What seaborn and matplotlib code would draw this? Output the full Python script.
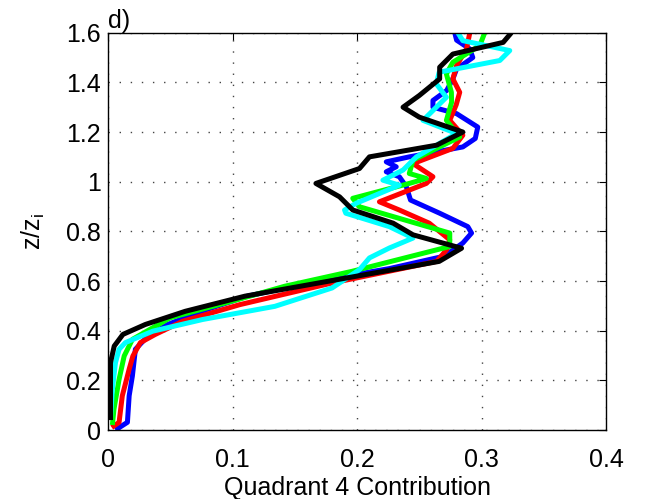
import matplotlib
matplotlib.use("Agg")
import matplotlib.pyplot as plt
import seaborn as sns
import pandas as pd

# ---- data ----
blue_z = [0.0, 0.031, 0.138, 0.218, 0.325, 0.378, 0.425, 0.478, 0.539, 0.60, 0.65, 0.70, 0.753, 0.793,
          0.819, 0.873, 0.926, 0.980, 1.02, 1.04, 1.06, 1.080, 1.100, 1.140, 1.174, 1.220, 1.274, 1.30,
          1.327, 1.367, 1.414, 1.454, 1.50, 1.535, 1.57, 1.6]
blue_x = [0.006, 0.0156, 0.017, 0.0196, 0.022, 0.032, 0.048, 0.075, 0.112, 0.168, 0.226, 0.270, 0.285, 0.292,
          0.289, 0.2664, 0.243, 0.2396, 0.234, 0.2235, 0.2315, 0.2235, 0.242, 0.285, 0.295, 0.297, 0.280, 0.261,
          0.261, 0.272, 0.277, 0.280, 0.293, 0.2905, 0.28, 0.2785]

red_z = [0.01, 0.031, 0.138, 0.245, 0.298, 0.352, 0.385, 0.438, 0.505, 0.592, 0.679, 0.726, 0.766, 0.833,
         0.886, 0.919, 0.993, 1.020, 1.073, 1.134, 1.187, 1.247, 1.31, 1.36, 1.414, 1.468, 1.535, 1.6]
red_x = [0.003, 0.0089, 0.0115, 0.017, 0.02, 0.026, 0.038, 0.060, 0.106, 0.180, 0.264, 0.272, 0.2745, 0.258,
         0.234, 0.218, 0.2557, 0.261, 0.245, 0.277, 0.285, 0.2745, 0.2797, 0.2825, 0.277, 0.280, 0.288, 0.2906]

green_z = [0.02, 0.084, 0.204, 0.298, 0.365, 0.452, 0.525, 0.579, 0.639, 0.739, 0.793, 0.899, 0.933, 0.993,
           1.013, 1.033, 1.087, 1.180, 1.247, 1.32, 1.36, 1.434, 1.481, 1.548, 1.6]
green_x = [0.0035, 0.0048, 0.0089, 0.013, 0.0196, 0.050, 0.104, 0.142, 0.196, 0.2745, 0.2745, 0.202, 0.1966, 0.242,
           0.2557, 0.242, 0.245, 0.2825, 0.2718, 0.276, 0.2758, 0.2718, 0.277, 0.2986, 0.3026]

cyan_z = [0.044, 0.164, 0.271, 0.325, 0.352, 0.398, 0.445, 0.498, 0.572, 0.646, 0.693, 0.733, 0.773, 0.819,
          0.873, 0.886, 0.913, 0.986, 1.006, 1.047, 1.100, 1.194, 1.247, 1.34, 1.394, 1.441, 1.488, 1.528,
          1.568, 1.6]
cyan_x = [0.002, 0.0035, 0.006, 0.0089, 0.014, 0.036, 0.076, 0.134, 0.180, 0.202, 0.210, 0.226, 0.245, 0.226,
          0.191, 0.19, 0.1993, 0.234, 0.2208, 0.237, 0.2477, 0.280, 0.253, 0.2718, 0.2637, 0.266, 0.3147, 0.3227,
          0.285, 0.281]

black_z = [0.04, 0.271, 0.338, 0.385, 0.425, 0.478, 0.539, 0.679, 0.732, 0.786, 0.833, 0.886, 0.939, 0.993,
           1.053, 1.100, 1.147, 1.200, 1.260, 1.300, 1.347, 1.414, 1.461, 1.514, 1.561, 1.600]
black_x = [0.002, 0.002, 0.005, 0.012, 0.030, 0.062, 0.110, 0.266, 0.284, 0.245, 0.229, 0.1966, 0.186, 0.167,
           0.202, 0.210, 0.264, 0.285, 0.250, 0.237, 0.250, 0.2664, 0.2664, 0.277, 0.3174, 0.324]

series_names = ["blue", "red", "green", "cyan", "black"]
series_colors = ["#0000ff", "#ff0000", "#00ff00", "#00ffff", "#000000"]

x_ticks = [0, 0.1, 0.2, 0.3, 0.4]
x_ticklabels = ["0", "0.1", "0.2", "0.3", "0.4"]
y_ticks = [0, 0.2, 0.4, 0.6, 0.8, 1.0, 1.2, 1.4, 1.6]
y_ticklabels = ["0", "0.2", "0.4", "0.6", "0.8", "1", "1.2", "1.4", "1.6"]

# ---- build long table ----
frames = []
for name, xs, zs in zip(series_names,
                        [blue_x, red_x, green_x, cyan_x, black_x],
                        [blue_z, red_z, green_z, cyan_z, black_z]):
    frames.append(pd.DataFrame({"x": xs, "z": zs, "series": name}))
df = pd.concat(frames, ignore_index=True)

sns.set_theme(style="white")
plt.rcParams["font.family"] = ["Liberation Sans", "DejaVu Sans"]
plt.rcParams["mathtext.fontset"] = "custom"
plt.rcParams["mathtext.rm"] = "Liberation Sans"
plt.rcParams["mathtext.it"] = "Liberation Sans"
plt.rcParams["text.color"] = "black"
plt.rcParams["axes.labelcolor"] = "black"

FS = 18

fig = plt.figure(figsize=(6.48, 4.99), dpi=100)
ax = fig.add_axes([108 / 648, 69 / 499, (606 - 108) / 648, (430 - 32.7) / 499])

sns.lineplot(data=df, x="x", y="z", hue="series", hue_order=series_names,
             palette=series_colors, sort=False, estimator=None, units="series",
             linewidth=3.6, legend=False, ax=ax, solid_joinstyle="round",
             solid_capstyle="butt")

ax.set_xlim(0, 0.4)
ax.set_ylim(0, 1.6)
ax.set_xticks(x_ticks)
ax.set_xticklabels(x_ticklabels)
ax.set_yticks(y_ticks)
ax.set_yticklabels(y_ticklabels)
ax.tick_params(direction="in", length=5, width=0.8, top=True, right=True,
               labelsize=FS, colors="black")
ax.tick_params(axis="x", pad=13)
ax.tick_params(axis="y", pad=5)
for s in ax.spines.values():
    s.set_visible(True)
    s.set_color("black")
    s.set_linewidth(1.0)
ax.grid(True, linestyle=(0, (1, 7)), linewidth=1.0, color="#444444")
ax.set_axisbelow(True)

ax.set_xlabel("Quadrant 4 Contribution", fontsize=FS, labelpad=3, color="black")
ax.set_ylabel(r"z/z$_\mathregular{i}$", fontsize=FS, labelpad=14, color="black")
fig.text(108 / 648, (499 - 28) / 499, "d)", fontsize=FS, ha="left", va="baseline",
         color="black")

fig.savefig("out.png", dpi=100, facecolor="white")
